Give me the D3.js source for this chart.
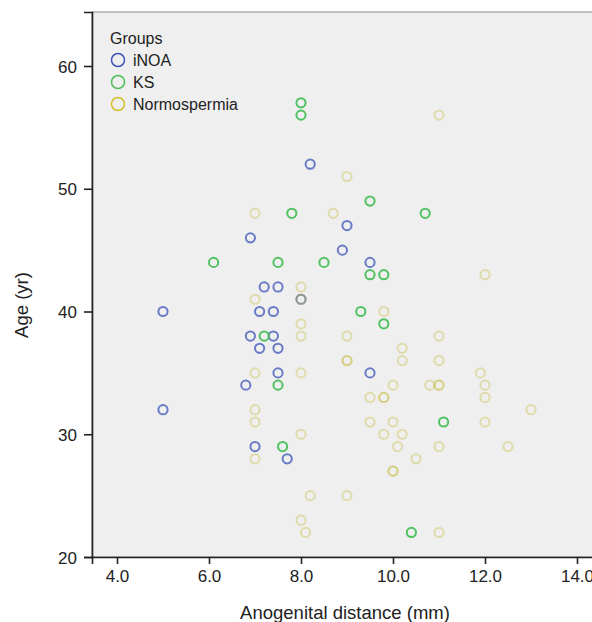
<!DOCTYPE html>
<html>
<head>
<meta charset="utf-8">
<script src="https://cdn.jsdelivr.net/npm/d3@7"></script>
<style>
  body { margin: 0; background: #fff; }
  .vis { width: 592px; height: 622px; }
  text { fill: #222; }
</style>
</head>
<body>
<div class="vis"></div>
<script>
(function() {
  'use strict';

  var groups = ['iNOA', 'KS', 'Normospermia'];

  // anogenital distance (mm) / age (yr)
  var inoaAgd = [5.0, 5.0, 8.2, 6.9, 9.0, 8.9, 9.5, 7.2, 7.5, 7.1, 7.4, 6.9, 7.4, 7.1, 7.5, 7.5, 6.8, 9.5, 7.0, 7.7, 8.0];
  var inoaAge = [40, 32, 52, 46, 47, 45, 44, 42, 42, 40, 40, 38, 38, 37, 37, 35, 34, 35, 29, 28, 41];

  var ksAgd = [8.0, 8.0, 9.5, 7.8, 10.7, 6.1, 7.5, 8.5, 9.5, 9.8, 9.3, 9.8, 7.2, 7.5, 7.6, 11.1, 10.4];
  var ksAge = [57, 56, 49, 48, 48, 44, 44, 44, 43, 43, 40, 39, 38, 34, 29, 31, 22];

  var normoAgd = [11.0, 9.0, 7.0, 8.7, 12.0, 8.0, 7.0, 8.0, 8.0, 9.8, 8.0, 9.0, 11.0, 10.2, 9.0, 9.0, 10.2, 11.0,
    7.0, 8.0, 11.9, 10.0, 10.8, 11.0, 11.0, 12.0, 9.5, 9.8, 9.8, 12.0, 7.0, 13.0, 7.0, 9.5, 10.0, 12.0,
    8.0, 9.8, 10.2, 10.1, 11.0, 12.5, 7.0, 10.5, 10.0, 10.0, 8.2, 9.0, 8.0, 8.1, 11.0];
  var normoAge = [56, 51, 48, 48, 43, 42, 41, 41, 39, 40, 38, 38, 38, 37, 36, 36, 36, 36,
    35, 35, 35, 34, 34, 34, 34, 34, 33, 33, 33, 33, 32, 32, 31, 31, 31, 31,
    30, 30, 30, 29, 29, 29, 28, 28, 27, 27, 25, 25, 23, 22, 22];

  var xTicks = [4, 6, 8, 10, 12, 14];
  var yTicks = [20, 30, 40, 50, 60];

  var colors = ['#3d54b8', '#3fbd52', '#c8bf4a'];
  var legendColors = ['#3d54b8', '#4fbf5a', '#d0c02a'];
  var opac = [0.75, 0.9, 0.42];

  var font = '"Liberation Sans", Arial, sans-serif';

  var el = d3.select('.vis'),
    width = 592,
    height = 622,
    left = 92, top = 12, right = 600, bottom = 557;

  var svg = el.append('svg')
    .attr('width', width)
    .attr('height', height);

  var x = d3.scaleLinear().domain([3.4565, 14.5]).range([left, right]);
  var y = d3.scaleLinear().domain([20, 64.4]).range([bottom, top]);

  svg.append('rect')
    .attr('x', left).attr('y', top)
    .attr('width', right - left).attr('height', bottom - top)
    .attr('fill', '#efefef')
    .attr('stroke', '#8a8a8a')
    .attr('stroke-width', 1);

  var series = [
    {name: groups[0], agd: inoaAgd, age: inoaAge},
    {name: groups[1], agd: ksAgd, age: ksAge},
    {name: groups[2], agd: normoAgd, age: normoAge}
  ];

  series.forEach(function(s, gi) {
    var pts = s.agd.map(function(v, i) { return [v, s.age[i]]; });
    svg.append('g').selectAll('circle')
      .data(pts)
      .enter()
      .append('circle')
        .attr('cx', function(d) { return x(d[0]); })
        .attr('cy', function(d) { return y(d[1]); })
        .attr('r', 4.6)
        .attr('fill', 'none')
        .attr('stroke', colors[gi])
        .attr('stroke-opacity', opac[gi])
        .attr('stroke-width', 2);
  });

  // axes
  var xAxis = svg.append('g')
    .attr('transform', 'translate(0,' + bottom + ')')
    .call(d3.axisBottom(x).tickValues(xTicks).tickFormat(d3.format('.1f')).tickSizeOuter(0).tickSize(7).tickPadding(6));
  var yAxis = svg.append('g')
    .attr('transform', 'translate(' + left + ',0)')
    .call(d3.axisLeft(y).tickValues(yTicks).tickSizeOuter(0).tickSize(8).tickPadding(7));

  [xAxis, yAxis].forEach(function(a) {
    a.select('.domain').attr('stroke', '#222').attr('stroke-width', 1.6);
    a.selectAll('.tick line').attr('stroke', '#222').attr('stroke-width', 1.6);
    a.selectAll('.tick text')
      .attr('fill', '#222')
      .style('font-family', font)
      .style('font-size', '17px');
  });
  yAxis.selectAll('.tick text').attr('dy', '0.36em');

  svg.append('text')
    .attr('x', 345).attr('y', 619)
    .attr('text-anchor', 'middle')
    .style('font-family', font)
    .style('font-size', '18.5px')
    .text('Anogenital distance (mm)');

  svg.append('text')
    .attr('transform', 'translate(28,305) rotate(-90)')
    .attr('text-anchor', 'middle')
    .style('font-family', font)
    .style('font-size', '18.5px')
    .text('Age (yr)');

  // legend
  var lg = svg.append('g').style('font-family', font).style('font-size', '16px');
  lg.append('text').attr('x', 110).attr('y', 44).text('Groups');
  groups.forEach(function(g, i) {
    var cy = 60 + i * 22;
    lg.append('circle')
      .attr('cx', 118).attr('cy', cy).attr('r', 6.5)
      .attr('fill', 'none')
      .attr('stroke', legendColors[i])
      .attr('stroke-width', 1.5);
    lg.append('text')
      .attr('x', 133).attr('y', cy).attr('dy', '0.36em')
      .text(g);
  });
}());
</script>
</body>
</html>
